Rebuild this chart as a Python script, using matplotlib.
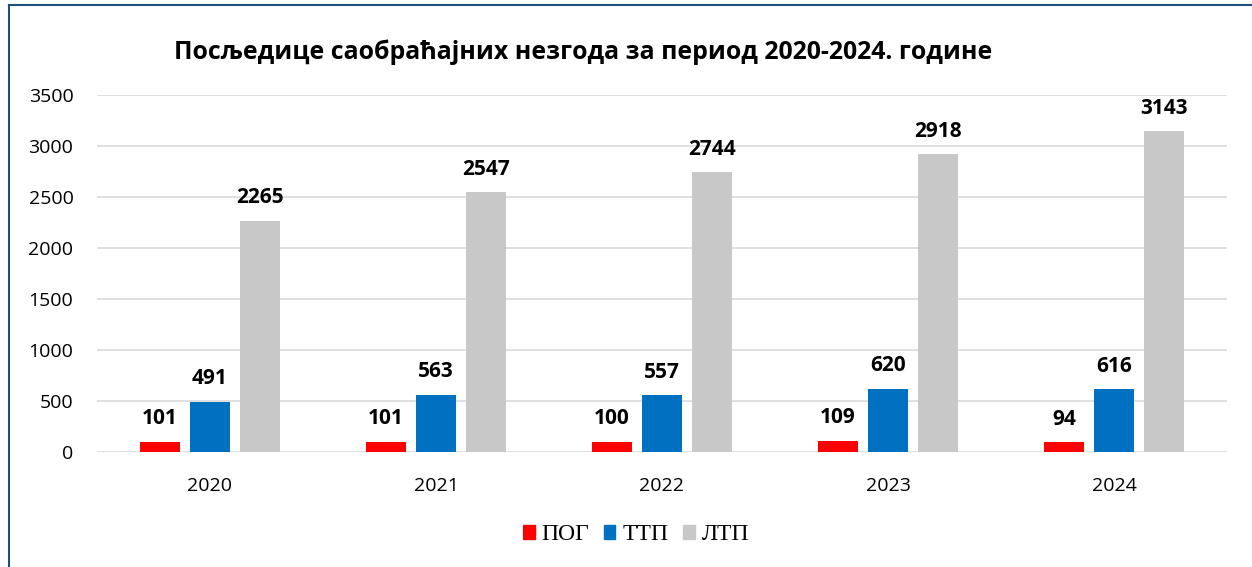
import numpy as np
import matplotlib
matplotlib.use("Agg")
import matplotlib.pyplot as plt
from matplotlib.patches import Rectangle
from matplotlib.lines import Line2D

years = ["2020", "2021", "2022", "2023", "2024"]
series_names = ["ПОГ", "ТТП", "ЛТП"]
pog = [101, 101, 100, 109, 94]
ttp = [491, 563, 557, 620, 616]
ltp = [2265, 2547, 2744, 2918, 3143]
colors = ["#FF0000", "#0070C0", "#C8C8C8"]

fig = plt.figure(figsize=(12.52, 5.67), dpi=100)
ax = fig.add_axes([97 / 1252, 1 - 452 / 567, (1227 - 97) / 1252, (452 - 95) / 567])

x = np.arange(len(years))
width = 0.177
step = 0.221
for i, (vals, c) in enumerate(zip([pog, ttp, ltp], colors)):
    pos = x + (i - 1) * step
    ax.bar(pos, vals, width, color=c, zorder=3)
    for p, v in zip(pos, vals):
        ax.annotate(str(v), (p, v), xytext=(0, 9), textcoords="offset points",
                    ha="center", va="bottom", fontsize=15, fontweight="bold",
                    family="Open Sans")

ax.set_xlim(-0.5, len(years) - 0.5)
ax.set_ylim(0, 3500)
ax.set_yticks(range(0, 3501, 500))
ax.set_xticks(x)
ax.set_xticklabels(years)
ax.grid(axis="y", color="#D9D9D9", linewidth=1.2, zorder=0)
for s in ax.spines.values():
    s.set_visible(False)
ax.tick_params(length=0, labelsize=14)
ax.tick_params(axis="y", pad=17)
ax.tick_params(axis="x", pad=18)
for lbl in ax.get_xticklabels() + ax.get_yticklabels():
    lbl.set_family("Open Sans")

fig.text(583 / 1252, 1 - 52 / 567, "Посљедице саобраћајних незгода за период 2020-2024. године",
         ha="center", va="center", fontsize=17.9, fontweight="bold", family="Open Sans")

handles = [Rectangle((0, 0), 1, 1, color=c) for c in colors]
fig.legend(handles, series_names, loc="center", bbox_to_anchor=(636 / 1252, 1 - 535 / 567),
           ncol=3, frameon=False, prop={"family": "Liberation Serif", "size": 17},
           handlelength=0.5, handleheight=0.5, handletextpad=0.3, columnspacing=0.6)

# border (top and left)
fig.add_artist(Line2D([9 / 1252, 9 / 1252], [0, 1 - 5 / 567], transform=fig.transFigure,
                      color="#1F4E79", linewidth=1.5))
fig.add_artist(Line2D([9 / 1252, 1], [1 - 5 / 567, 1 - 5 / 567], transform=fig.transFigure,
                      color="#1F4E79", linewidth=1.5))

fig.savefig("out.png", dpi=100)
